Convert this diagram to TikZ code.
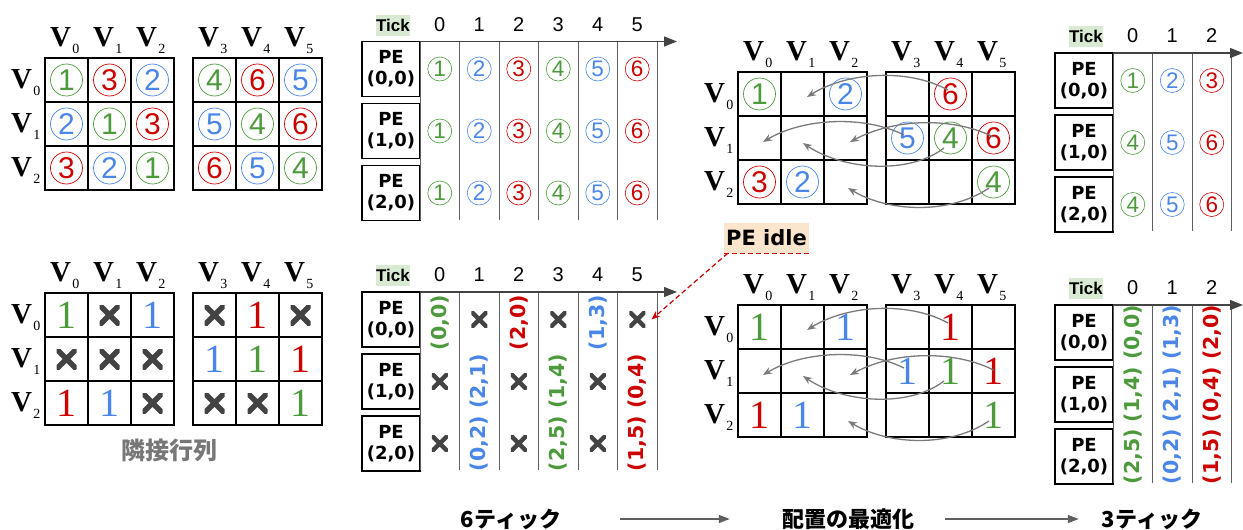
\documentclass[tikz,border=0pt]{standalone}
\usepackage{fontspec}
\setmainfont{Liberation Serif}
\newfontfamily\arial{Liberation Sans}
\newfontfamily\dejavu{DejaVu Sans}
\newfontfamily\jpfont{Noto Sans CJK JP}
\usetikzlibrary{calc, arrows.meta}

\definecolor{grn}{HTML}{4C9A3C}
\definecolor{blu}{HTML}{4A86E8}
\definecolor{rd}{HTML}{CC0000}
\definecolor{xgray}{HTML}{434343}
\definecolor{lgray}{HTML}{5F5F5F}
\definecolor{agray}{HTML}{7A7A7A}
\definecolor{tickbg}{HTML}{D9EAD3}
\definecolor{idlebg}{HTML}{FCE5CD}

% etiquette V avec indice
\newcommand{\vsub}[1]{{\fontsize{29}{29}\selectfont\bfseries V}\rlap{\kern1.5pt\smash{\raisebox{-7.5pt}{\fontsize{14}{14}\selectfont #1}}}}

\tikzset{
	cell/.style={draw, line width=1.3pt, minimum width=43pt, minimum height=44pt, inner sep=0pt},
	vlab/.style={inner sep=0pt},
	cnum/.style={circle, draw=#1, text=#1, line width=0.7pt, minimum size=32pt, inner sep=0pt, font=\arial\fontsize{30}{30}\selectfont},
	cnums/.style={circle, draw=#1, text=#1, line width=0.6pt, minimum size=24pt, inner sep=0pt, font=\arial\fontsize{22.5}{22.5}\selectfont},
	one/.style={text=#1, inner sep=0pt, font=\fontsize{40}{40}\selectfont},
	xmk/.style 2 args={minimum size=#1, inner sep=0pt, path picture={\draw[xgray, line width=#2] (path picture bounding box.south west) -- (path picture bounding box.north east) (path picture bounding box.north west) -- (path picture bounding box.south east);}},
	pebox/.style={draw, line width=1.3pt, minimum width=58pt, minimum height=55pt, inner sep=0pt, align=center, font=\dejavu\bfseries\fontsize{18}{21}\selectfont},
	tickbox/.style={fill=tickbg, minimum width=34pt, minimum height=21pt, inner sep=0pt, font=\arial\bfseries\fontsize{17}{17}\selectfont},
	ticknum/.style={inner sep=0pt, font=\arial\fontsize{20}{20}\selectfont},
	tline/.style={draw=lgray, line width=1pt},
	taxis/.style={draw=xgray, line width=1.3pt, -{Triangle[length=13pt,width=10pt]}},
	rot/.style={rotate=90, text=#1, inner sep=0pt, font=\dejavu\bfseries\fontsize{20.5}{20.5}\selectfont},
	moved/.style={draw=agray, line width=1.3pt, -{Stealth[length=9pt,width=7pt]}},
	idle/.style={fill=idlebg, minimum width=85pt, minimum height=30pt, inner sep=0pt, font=\dejavu\bfseries\fontsize{21}{21}\selectfont},
	idleline/.style={draw=rd, line width=1.2pt, dash pattern=on 5pt off 3pt},
	flow/.style={draw=lgray, line width=1.3pt, -{Triangle[length=11pt,width=8pt]}},
	jplab/.style={inner sep=0pt, font=\jpfont\bfseries\fontsize{22}{22}\selectfont}
}

% matrice 3x6 : prefixe, x gauche, y haut
\newcommand{\adjgrid}[3]{%
	\foreach \r in {0,1,2}{%
		\foreach \c in {0,...,5}{%
			\pgfmathsetmacro{\cx}{#2+43*\c+19*(\c>2)+21.5}%
			\pgfmathsetmacro{\cy}{#3+44*\r+22}%
			\node[cell] (#1-\r-\c) at (\cx,\cy) {};
		}%
	}%
	\foreach \c in {0,...,5}{\node[vlab] (#1-cl\c) at ($(#1-0-\c)+(-6,-43)$) {\vsub{\c}};}%
	\foreach \r in {0,1,2}{\node[vlab] (#1-rl\r) at ($(#1-\r-0)+(-45,-1)$) {\vsub{\r}};}%
}

% chronogramme : prefixe, bord droit des PE, y axe, dernier tick, fin de l'axe
\newcommand{\tickchart}[5]{%
	\node[tickbox] (#1-tick) at (#2-27,#3-16.5) {Tick};
	\foreach \i in {0,1,2}{\node[pebox] (#1-pe\i) at (#2-29,#3+27.5+62*\i) {PE\\(\i,0)};}%
	\foreach \c in {0,...,#4}{%
		\node[ticknum] (#1-t\c) at (#2+19.75+39.5*\c,#3-17) {\c};
		\foreach \r in {0,1,2}{\coordinate (#1-\r-\c) at (#2+19.75+39.5*\c,#3+27.5+62*\r);}%
	}%
	\pgfmathtruncatemacro{\nlast}{#4+1}%
	\foreach \c in {0,...,\nlast}{\draw[tline] (#2+39.5*\c,#3) -- (#2+39.5*\c,#3+178);}%
	\draw[taxis] (#2,#3) -- (#5,#3);
}

% fleches de deplacement
\newcommand{\movearrows}[1]{%
	\draw[moved] ($(#1-0-4)+(-2.5,-4)$) .. controls +(-40,-22) and +(40,-25) .. ($(#1-0-1)+(4.5,3)$);
	\draw[moved] ($(#1-1-3)+(-3.5,-3)$) .. controls +(-40,-20) and +(40,-24) .. ($(#1-1-0)+(3.5,4)$);
	\draw[moved] ($(#1-1-5)+(0,-1)$) .. controls +(-40,-20) and +(45,-24) .. ($(#1-1-2)+(4.5,4)$);
	\draw[moved] ($(#1-1-4)+(-6.5,10)$) .. controls +(-35,27) and +(40,27) .. ($(#1-1-1)+(0.5,5)$);
	\draw[moved] ($(#1-2-5)+(-4.5,6)$) .. controls +(-40,27) and +(40,24) .. ($(#1-2-2)+(2.5,6)$);
}

\begin{document}
\begin{tikzpicture}[x=1pt, y=-1pt]
	\useasboundingbox (0,0) rectangle (1243,530);
	
%%%%     MATRICES     %%%%

	\adjgrid{ma}{45}{58}
	\adjgrid{mb}{45}{293}
	\adjgrid{mc}{738}{72}
	\adjgrid{md}{738}{305}
	
	% ordre d'execution
	\foreach \r/\c/\n/\k in {0/0/1/grn, 0/1/3/rd, 0/2/2/blu, 0/3/4/grn, 0/4/6/rd, 0/5/5/blu,
		1/0/2/blu, 1/1/1/grn, 1/2/3/rd, 1/3/5/blu, 1/4/4/grn, 1/5/6/rd,
		2/0/3/rd, 2/1/2/blu, 2/2/1/grn, 2/3/6/rd, 2/4/5/blu, 2/5/4/grn}
		\node[cnum=\k] (ma-n\r\c) at (ma-\r-\c) {\n};
	
	% matrice d'adjacence
	\foreach \r/\c/\k in {0/0/grn, 0/2/blu, 0/4/rd, 1/3/blu, 1/4/grn, 1/5/rd, 2/0/rd, 2/1/blu, 2/5/grn}{
		\node[one=\k] (mb-n\r\c) at (mb-\r-\c) {1};
		\node[one=\k] (md-n\r\c) at (md-\r-\c) {1};
	}
	\foreach \r/\c in {0/1, 0/3, 0/5, 1/0, 1/1, 1/2, 2/2, 2/3, 2/4}
		\node[xmk={20pt}{5.5pt}] (mb-x\r\c) at (mb-\r-\c) {};
	\node[font=\jpfont\bfseries\fontsize{24}{24}\selectfont, text=lgray!85, inner sep=0pt] (adjcap) at (169,450) {隣接行列};
	
	% apres optimisation
	\foreach \r/\c/\n/\k in {0/0/1/grn, 0/2/2/blu, 0/4/6/rd, 1/3/5/blu, 1/4/4/grn, 1/5/6/rd, 2/0/3/rd, 2/1/2/blu, 2/5/4/grn}
		\node[cnum=\k] (mc-n\r\c) at (mc-\r-\c) {\n};
	\movearrows{mc}
	\movearrows{md}
	
%%%%     CHRONOGRAMMES     %%%%

	\tickchart{ta}{420}{41.5}{5}{677}
	\tickchart{tb}{420}{292}{5}{677}
	\tickchart{tc}{1113}{53}{2}{1243}
	\tickchart{td}{1113}{305}{2}{1243}
	
	\foreach \c/\n/\k in {0/1/grn, 1/2/blu, 2/3/rd, 3/4/grn, 4/5/blu, 5/6/rd}
		\foreach \r in {0,1,2}
			\node[cnums=\k] (ta-n\r\c) at (ta-\r-\c) {\n};
	
	\foreach \c/\n/\k in {0/1/grn, 1/2/blu, 2/3/rd}
		\node[cnums=\k] (tc-n0\c) at (tc-0-\c) {\n};
	\foreach \c/\n/\k in {0/4/grn, 1/5/blu, 2/6/rd}
		\foreach \r in {1,2}
			\node[cnums=\k] (tc-n\r\c) at (tc-\r-\c) {\n};
	
	% paires (ligne,colonne)
	\node[rot=grn] (tb-r0) at ($(tb-0-0)+(0,3)$) {(0,0)};
	\node[rot=blu] (tb-r1) at ($(tb-1-1)!0.5!(tb-2-1)$) {(0,2) (2,1)};
	\node[rot=rd] (tb-r2) at ($(tb-0-2)+(0,3)$) {(2,0)};
	\node[rot=grn] (tb-r3) at ($(tb-1-3)!0.5!(tb-2-3)$) {(2,5) (1,4)};
	\node[rot=blu] (tb-r4) at ($(tb-0-4)+(0,3)$) {(1,3)};
	\node[rot=rd] (tb-r5) at ($(tb-1-5)!0.5!(tb-2-5)$) {(1,5) (0,4)};
	\foreach \r/\c in {1/0, 2/0, 0/1, 1/2, 2/2, 0/3, 1/4, 2/4, 0/5}
		\node[xmk={16pt}{4.5pt}] (tb-x\r\c) at (tb-\r-\c) {};
	
	\node[rot=grn] (td-r0) at (td-1-0) {(2,5) (1,4) (0,0)};
	\node[rot=blu] (td-r1) at (td-1-1) {(0,2) (2,1) (1,3)};
	\node[rot=rd] (td-r2) at (td-1-2) {(1,5) (0,4) (2,0)};
	
	% PE inactif
	\node[idle] (idle) at (766.5,238) {PE idle};
	\draw[idleline] (idle.south west) -- (idle.south east);
	\draw[idleline, -{Stealth[length=9pt,width=7pt]}] ($(idle.south west)+(4,0)$) -- ($(tb-x05.east)+(6,0)$);
	
	% legende du bas
	\node[jplab] (six) at (511,519) {6ティック};
	\node[jplab] (opt) at (848,519) {配置の最適化};
	\node[jplab] (three) at (1152,519) {3ティック};
	\draw[flow, shorten <=59pt, shorten >=52pt] (six) -- (opt);
	\draw[flow, shorten <=31pt, shorten >=23pt] (opt) -- (three);
	
\end{tikzpicture}
\end{document}
